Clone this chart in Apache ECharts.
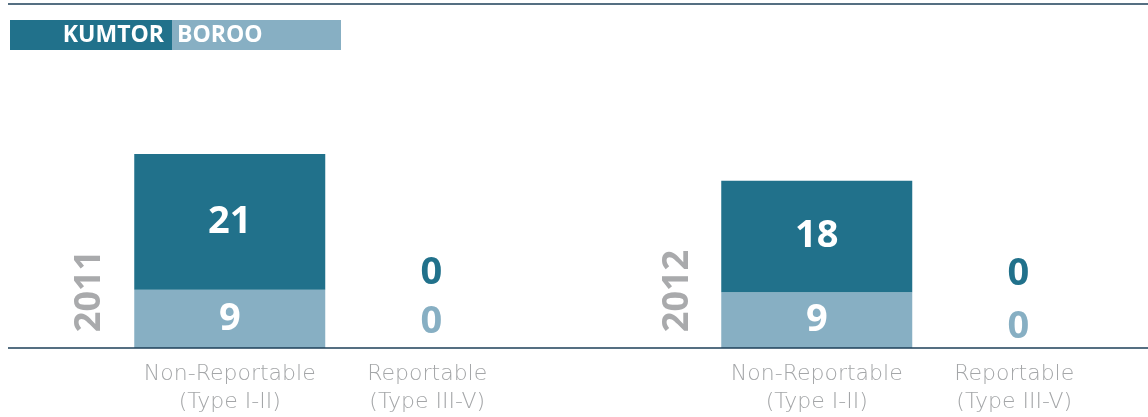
<!DOCTYPE html>
<html>
<head>
<meta charset="utf-8">
<script src="https://cdn.jsdelivr.net/npm/echarts@6/dist/echarts.min.js"></script>
<style>
  html, body { margin: 0; padding: 0; background: #ffffff; }
  #chart { width: 1148px; height: 417px; }
</style>
</head>
<body>
<div id="chart"></div>
<script>
// Incident counts by classification, per year and per mine
const categories = ['Non-Reportable\n(Type I-II)', 'Reportable\n(Type III-V)'];
const years = ['2011', '2012'];
const kumtor2011 = [21, 0];
const boroo2011 = [9, 0];
const kumtor2012 = [18, 0];
const boroo2012 = [9, 0];
const seriesNames = ['KUMTOR', 'BOROO'];

const DARK = '#21718b';
const LIGHT = '#87afc3';
const GREY = '#a9aaac';
const AXIS_TEXT = '#a4a6a8';
const RULE = '#1c3f58';

const W = 1148, H = 417;
const gridTop = 154, gridBottom = 69;
const baseY = H - gridBottom;

const panels = [
  { left: 131, width: 395, max: 30, k: kumtor2011, b: boroo2011, zk: -75, zb: -26 },
  { left: 718, width: 395, max: 31.3, k: kumtor2012, b: boroo2012, zk: -74, zb: -21 }
];

const valueLabel = {
  show: true,
  position: 'inside',
  color: '#ffffff',
  fontFamily: 'Open Sans',
  fontWeight: 'bold',
  fontSize: 38
};

// zero-height bars carry their label above the baseline in the series colour
function toData(values, color, lift) {
  return values.map(v => v === 0
    ? { value: v, label: { color: color, offset: [4, lift] } }
    : v);
}

const grids = [], xAxes = [], yAxes = [], series = [];
panels.forEach((p, i) => {
  grids.push({
    left: p.left, width: p.width, top: gridTop, bottom: gridBottom,
    outerBoundsMode: 'none', containLabel: false
  });
  xAxes.push({
    type: 'category', gridIndex: i, data: categories,
    axisLine: { show: false }, axisTick: { show: false },
    axisLabel: {
      interval: 0, hideOverlap: false,
      color: AXIS_TEXT, fontFamily: 'DejaVu Sans', fontWeight: 300, fontSize: 22,
      lineHeight: 28, margin: 12
    }
  });
  yAxes.push({
    type: 'value', gridIndex: i, min: 0, max: p.max, show: false
  });
  series.push({
    name: seriesNames[1], type: 'bar', stack: 'y' + i,
    xAxisIndex: i, yAxisIndex: i, barWidth: 191,
    itemStyle: { color: LIGHT }, label: valueLabel,
    data: toData(p.b, LIGHT, p.zb)
  });
  series.push({
    name: seriesNames[0], type: 'bar', stack: 'y' + i,
    xAxisIndex: i, yAxisIndex: i, barWidth: 191,
    itemStyle: { color: DARK }, label: valueLabel,
    data: toData(p.k, DARK, p.zk)
  });
});

const graphic = [
  // top rule and baseline
  { type: 'line', z: 10, shape: { x1: 8, y1: 4, x2: W, y2: 4 }, style: { stroke: RULE, lineWidth: 1.5 } },
  { type: 'line', z: 10, shape: { x1: 8, y1: baseY, x2: W, y2: baseY }, style: { stroke: RULE, lineWidth: 1.5 } },
  // legend blocks
  { type: 'rect', shape: { x: 10, y: 20, width: 162, height: 30 }, style: { fill: DARK } },
  { type: 'rect', shape: { x: 172, y: 20, width: 169, height: 30 }, style: { fill: LIGHT } },
  { type: 'text', x: 164, y: 35, style: { text: seriesNames[0], fill: '#ffffff', font: 'bold 23px "Open Sans"', align: 'right', verticalAlign: 'middle' } },
  { type: 'text', x: 177, y: 35, style: { text: seriesNames[1], fill: '#ffffff', font: 'bold 23px "Open Sans"', align: 'left', verticalAlign: 'middle' } },
  // year labels beside each panel
  { type: 'text', x: 90, y: 291, rotation: Math.PI / 2, style: { text: years[0], fill: GREY, font: 'bold 36px "Open Sans"', align: 'center', verticalAlign: 'middle' } },
  { type: 'text', x: 678, y: 291, rotation: Math.PI / 2, style: { text: years[1], fill: GREY, font: 'bold 36px "Open Sans"', align: 'center', verticalAlign: 'middle' } }
];

const chart = echarts.init(document.getElementById('chart'), null, { renderer: 'canvas' });
chart.setOption({
  animation: false,
  grid: grids,
  xAxis: xAxes,
  yAxis: yAxes,
  series: series,
  graphic: graphic
});
</script>
</body>
</html>
